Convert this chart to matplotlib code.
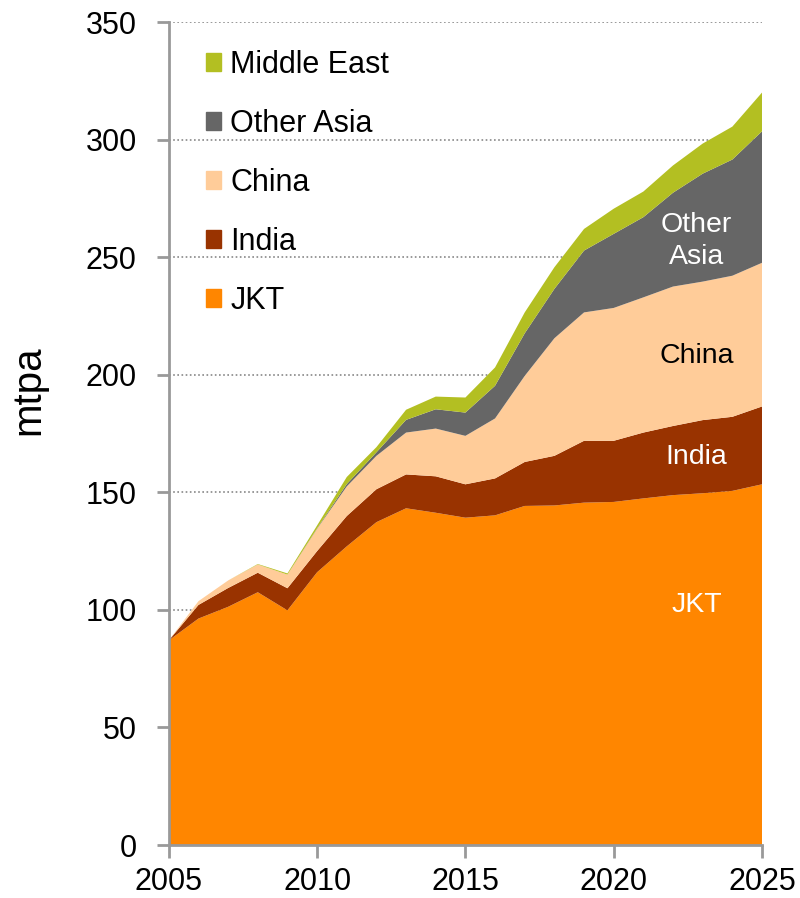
import matplotlib
matplotlib.use("Agg")
import matplotlib.pyplot as plt
from matplotlib.patches import Patch

plt.rcParams['font.family'] = ['Liberation Sans', 'DejaVu Sans']

# LNG demand by region, mtpa
years = list(range(2005, 2026))
jkt = [87, 96.3, 101.3, 107.5, 99.8, 116, 127, 137.3, 143.2, 141.3, 139.2,
       140.2, 144.2, 144.4, 145.6, 145.9, 147.4, 148.8, 149.6, 150.6, 153.4]
india = [0, 5.8, 8, 8.3, 9.4, 9, 12.9, 14, 14.4, 15.5, 14.2,
         15.7, 18.7, 21.1, 26.3, 26, 28, 29.4, 31.1, 31.5, 33.1]
china = [0, 1.6, 3.2, 3.5, 5.8, 9.5, 12.6, 14.2, 17.8, 20.3, 20.6,
         25.5, 36.6, 50, 54.6, 56.5, 57.5, 59.3, 58.9, 60, 61.1]
other_asia = [0, 0, 0, 0, 0, 0.2, 1, 1.5, 5.4, 8.2, 9.9,
              13.9, 18.1, 21, 26.3, 31.5, 34.1, 39.9, 45.9, 49.4, 55.9]
middle_east = [0, 0, 0, 0.2, 0.5, 1.2, 3, 2.2, 4.3, 5.4, 6.4,
               7.8, 8.9, 9.2, 9.2, 10.7, 10.9, 11.6, 12.8, 14, 16.5]

names = ['JKT', 'India', 'China', 'Other Asia', 'Middle East']
colors = ['#FF8600', '#993300', '#FFCC99', '#666666', '#B3BF22']

fig = plt.figure(figsize=(8, 8.98), dpi=100)
ax = fig.add_axes([0.211, 0.059, 0.7415, 0.9165])

ax.stackplot(years, jkt, india, china, other_asia, middle_east,
             colors=colors, linewidth=0)

ax.set_xlim(2005, 2025)
ax.set_ylim(0, 350)
ax.set_xticks(range(2005, 2026, 5))
ax.set_yticks(range(0, 351, 50))

ax.yaxis.grid(True, linestyle=(0, (1, 1.5)), color='#888888', linewidth=1.2)
ax.set_axisbelow(True)

for side in ['top', 'right']:
    ax.spines[side].set_visible(False)
for side in ['left', 'bottom']:
    ax.spines[side].set_color('#999999')
    ax.spines[side].set_linewidth(2)

ax.tick_params(axis='y', direction='out', length=9, width=2, color='#999999',
               labelsize=22, pad=14)
ax.tick_params(axis='x', direction='out', length=9, width=2, color='#999999',
               labelsize=22, pad=7)

ax.set_ylabel('mtpa', fontsize=29)
ax.yaxis.set_label_coords(-0.205, 0.553)

# labels inside the areas
ax.text(2022.8, 257, 'Other\nAsia', color='white', fontsize=20.5,
        ha='center', va='center', linespacing=1.3)
ax.text(2022.8, 208, 'China', color='black', fontsize=20.5, ha='center', va='center')
ax.text(2022.8, 165, 'India', color='white', fontsize=20.5, ha='center', va='center')
ax.text(2022.8, 102, 'JKT', color='white', fontsize=20.5, ha='center', va='center')

handles = [Patch(color=c, label=n) for n, c in zip(names, colors)][::-1]
ax.legend(handles=handles, loc='upper left', bbox_to_anchor=(0.042, 0.981),
          frameon=False, fontsize=22, handlelength=0.5, handleheight=0.5,
          handletextpad=0.3, labelspacing=0.95, borderaxespad=0)

fig.savefig('out.png', dpi=100)
